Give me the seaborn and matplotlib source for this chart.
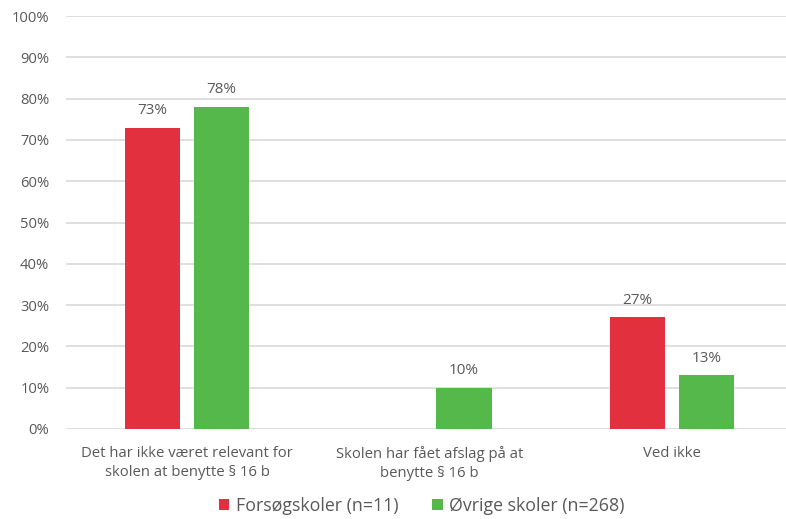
import matplotlib
matplotlib.use("Agg")
import matplotlib.pyplot as plt
import seaborn as sns
import pandas as pd

categories = ["Det har ikke været relevant for\nskolen at benytte § 16 b",
              "Skolen har fået afslag på at\nbenytte § 16 b",
              "Ved ikke"]
series = ["Forsøgskoler (n=11)", "Øvrige skoler (n=268)"]
forsog = [73, 0, 27]
ovrige = [78, 10, 13]
yticks = [0, 10, 20, 30, 40, 50, 60, 70, 80, 90, 100]
colors = ["#E3303F", "#55B84B"]

df = pd.DataFrame({
    "cat": categories * 2,
    "serie": [series[0]] * 3 + [series[1]] * 3,
    "val": forsog + ovrige,
})

sns.set_theme(style="white")
plt.rcParams["font.family"] = ["Open Sans", "DejaVu Sans"]
txt = "#595959"

fig = plt.figure(figsize=(7.86, 5.19), dpi=100)
ax = fig.add_axes([66 / 786, 90 / 519, 727 / 786, 413 / 519])

sns.barplot(data=df, x="cat", y="val", hue="serie", palette=colors,
            width=0.57, gap=0.2, ax=ax, legend=True, saturation=1,
            edgecolor="none")

ax.set_ylim(0, 100)
ax.set_xlim(-0.5, 2.5)
ax.set_yticks(yticks)
ax.set_yticklabels([f"{v}%" for v in yticks], color=txt, fontsize=10.6)
ax.tick_params(axis="y", length=0, pad=12)
ax.tick_params(axis="x", length=0, pad=12)
for lbl in ax.get_xticklabels():
    lbl.set_color(txt)
    lbl.set_fontsize(10.7)
    lbl.set_linespacing(1.35)
ax.set_xlabel("")
ax.set_ylabel("")
ax.grid(axis="y", color="#d9d9d9", linewidth=1.2)
ax.set_axisbelow(True)
for s in ax.spines.values():
    s.set_visible(False)

for cont in ax.containers:
    labels = [f"{v:.0f}%" if v > 0 else "" for v in cont.datavalues]
    ax.bar_label(cont, labels=labels, padding=7, color=txt, fontsize=11)

leg = ax.legend(loc="center", bbox_to_anchor=(0.489, -0.186), ncol=2, frameon=False,
                fontsize=12.8, handlelength=0.6, handleheight=0.6,
                handletextpad=0.35, columnspacing=1.9, borderpad=0.1)
for t in leg.get_texts():
    t.set_color(txt)

fig.savefig("out.png", dpi=100)
